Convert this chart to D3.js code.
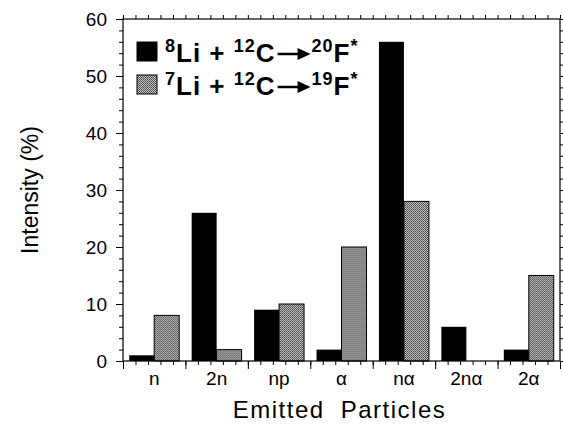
<!DOCTYPE html>
<html>
<head>
<meta charset="utf-8">
<script src="https://cdn.jsdelivr.net/npm/d3@7"></script>
<style>
  body { margin: 0; background: #fff; }
  svg { display: block; }
  text { font-family: "Liberation Sans", Arial, sans-serif; fill: #000; }
</style>
</head>
<body>
<div id="chart"></div>
<script>
// data
const categories = ['n', '2n', 'np', 'α', 'nα', '2nα', '2α'];
const li8Values = [1, 26, 9, 2, 56, 6, 2];   // 8Li + 12C -> 20F*
const li7Values = [8, 2, 10, 20, 28, 0, 15]; // 7Li + 12C -> 19F*
const yTicks = [0, 10, 20, 30, 40, 50, 60];

const width = 563, height = 425;
const margin = { top: 19, right: 3, bottom: 64, left: 123 };
const innerW = width - margin.left - margin.right;
const innerH = height - margin.top - margin.bottom;

const svg = d3.select('#chart').append('svg')
  .attr('width', width)
  .attr('height', height);

// stipple pattern for the grey series
const pat = svg.append('defs').append('pattern')
  .attr('id', 'stipple')
  .attr('width', 2).attr('height', 2)
  .attr('patternUnits', 'userSpaceOnUse');
pat.append('rect').attr('width', 2).attr('height', 2).attr('fill', '#c4c4c4');
pat.append('rect').attr('width', 1).attr('height', 1).attr('fill', '#444');
pat.append('rect').attr('x', 1).attr('y', 1).attr('width', 1).attr('height', 1).attr('fill', '#5a5a5a');

const g = svg.append('g').attr('transform', `translate(${margin.left},${margin.top})`);

const x = d3.scaleBand().domain(categories).range([0, innerW]).paddingInner(0.2).paddingOuter(0.1);
const xSub = d3.scaleBand().domain(['li8', 'li7']).range([0, x.bandwidth()]);
const y = d3.scaleLinear().domain([0, 60]).range([innerH, 0]);

// bars
const groups = g.selectAll('.grp')
  .data(categories)
  .enter().append('g')
  .attr('transform', d => `translate(${x(d)},0)`);

groups.append('rect')
  .attr('x', xSub('li8'))
  .attr('y', (d, i) => y(li8Values[i]))
  .attr('width', xSub.bandwidth())
  .attr('height', (d, i) => y(0) - y(li8Values[i]))
  .attr('fill', '#000');

groups.append('rect')
  .attr('x', xSub('li7'))
  .attr('y', (d, i) => y(li7Values[i]))
  .attr('width', xSub.bandwidth())
  .attr('height', (d, i) => y(0) - y(li7Values[i]))
  .attr('fill', 'url(#stipple)')
  .attr('stroke', '#000')
  .attr('stroke-width', (d, i) => li7Values[i] > 0 ? 1 : 0);

// y axis, left, with minor ticks
const yMinor = d3.range(0, 61, 2);
g.append('g')
  .call(d3.axisLeft(y).tickValues(yMinor).tickSize(4).tickFormat(''))
  .call(a => a.select('.domain').remove());
g.append('g')
  .call(d3.axisLeft(y).tickValues(yTicks).tickSize(7).tickPadding(9))
  .call(a => a.select('.domain').remove())
  .selectAll('text').style('font-size', '19px');

// right axis ticks
g.append('g')
  .attr('transform', `translate(${innerW},0)`)
  .call(d3.axisRight(y).tickValues(yMinor).tickSize(4).tickFormat(''))
  .call(a => a.select('.domain').remove());

// x axis ticks: majors at band boundaries, minors in between
const step = x.step();
const xOffsets = d3.range(0, categories.length * 5 + 1).map(k => k * step / 5);
const xTickScale = d3.scaleLinear().domain([0, innerW]).range([0, innerW]);
g.append('g')
  .attr('transform', `translate(0,${innerH})`)
  .call(d3.axisBottom(xTickScale).tickValues(xOffsets).tickSize(4).tickFormat(''))
  .call(a => a.select('.domain').remove());
g.append('g')
  .attr('transform', `translate(0,${innerH})`)
  .call(d3.axisBottom(xTickScale).tickValues(xOffsets.filter((v, k) => k % 5 === 0)).tickSize(8).tickFormat(''))
  .call(a => a.select('.domain').remove());
g.append('g')
  .call(d3.axisTop(xTickScale).tickValues(xOffsets).tickSize(4).tickFormat(''))
  .call(a => a.select('.domain').remove());

// category labels
g.append('g')
  .attr('transform', `translate(0,${innerH})`)
  .call(d3.axisBottom(x).tickSize(0).tickPadding(8))
  .call(a => a.select('.domain').remove())
  .selectAll('text').style('font-size', '19px').attr('dy', '0.85em');

// frame
g.append('rect')
  .attr('width', innerW).attr('height', innerH)
  .attr('fill', 'none').attr('stroke', '#000').attr('stroke-width', 1.2);

// axis titles
svg.append('text')
  .attr('transform', `translate(38,${margin.top + innerH / 2}) rotate(-90)`)
  .attr('text-anchor', 'middle')
  .style('font-size', '23px')
  .text('Intensity (%)');

svg.append('text')
  .attr('x', margin.left + innerW / 2 - 2)
  .attr('y', 418)
  .attr('text-anchor', 'middle')
  .style('font-size', '24px')
  .style('letter-spacing', '1.5px')
  .style('word-spacing', '8px')
  .text('Emitted Particles');

// legend
const legendItems = [
  { fill: '#000', left: [['8', true], ['Li + ', false], ['12', true], ['C', false]], right: [['20', true], ['F', false], ['*', true]] },
  { fill: 'url(#stipple)', left: [['7', true], ['Li + ', false], ['12', true], ['C', false]], right: [['19', true], ['F', false], ['*', true]] }
];

function addRich(parent, xPos, parts) {
  const t = parent.append('text')
    .attr('x', xPos).attr('y', 20)
    .style('font-weight', 'bold')
    .style('letter-spacing', '1px');
  let up = false;
  parts.forEach(([s, sup]) => {
    let dy = 0;
    if (sup && !up) { dy = -10; up = true; }
    else if (!sup && up) { dy = 10; up = false; }
    t.append('tspan')
      .attr('dy', dy)
      .style('font-size', sup ? '18px' : '26px')
      .text(s);
  });
  return t;
}

const legend = svg.append('g').attr('transform', 'translate(137,42)');
legendItems.forEach((item, i) => {
  const row = legend.append('g').attr('transform', `translate(0,${i * 33})`);
  row.append('rect')
    .attr('width', 20).attr('height', 19)
    .attr('fill', item.fill)
    .attr('stroke', '#000');
  const left = addRich(row, 28, item.left);
  const lw = left.node().getComputedTextLength();
  const ax0 = 28 + lw + 2, ax1 = ax0 + 33;
  row.append('line')
    .attr('x1', ax0).attr('x2', ax1 - 8)
    .attr('y1', 12).attr('y2', 12)
    .attr('stroke', '#000').attr('stroke-width', 2.5);
  row.append('path')
    .attr('d', `M${ax1 - 13},6 L${ax1},12 L${ax1 - 13},18 Z`)
    .attr('fill', '#000');
  addRich(row, ax1 + 1, item.right);
});
</script>
</body>
</html>
